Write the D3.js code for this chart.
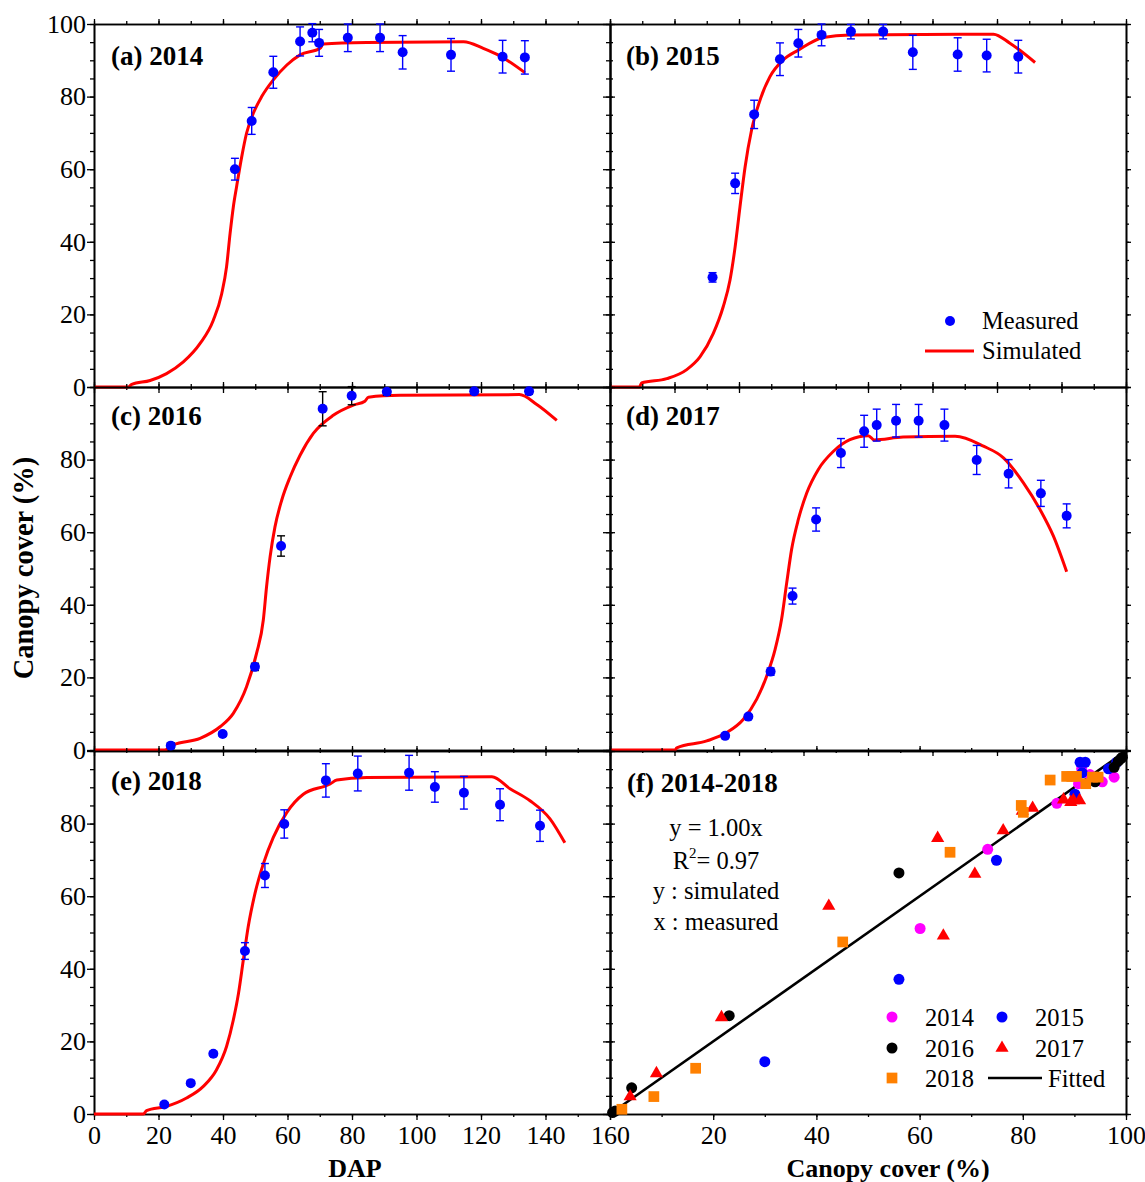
<!DOCTYPE html>
<html lang="en">
<head>
    <meta charset="UTF-8">
    <script src="https://d3js.org/d3.v7.min.js" charset="utf-8"></script>
    <title>Canopy cover</title>
    <style>
        body { margin: 0; background: #fff; }
        svg text { font-family: "Liberation Serif", "Times New Roman", serif; fill: #000; }
    </style>
</head>
<body>
<div id="chart"></div>
<script>
    // ---- measured canopy cover (DAP, %, error) ----
    const dap2014 = [43.7, 48.9, 55.6, 63.9, 67.7, 69.8, 78.7, 88.7, 95.7, 110.7, 126.7, 133.6];
    const cc2014 = [60.0, 73.3, 86.7, 95.2, 97.6, 94.8, 96.2, 96.2, 92.2, 91.5, 91.0, 90.8];
    const err2014 = [3.0, 3.7, 4.4, 4.0, 2.5, 3.7, 3.8, 3.8, 4.6, 4.5, 4.5, 4.6];

    const dap2015 = [31.8, 38.8, 44.7, 52.7, 58.4, 65.6, 74.7, 84.7, 93.9, 107.8, 116.8, 126.6];
    const cc2015 = [30.2, 56.1, 75.1, 90.3, 94.7, 97.0, 97.9, 97.9, 92.2, 91.6, 91.3, 91.0];
    const err2015 = [1.3, 2.8, 3.9, 4.5, 3.8, 3.0, 2.0, 2.0, 4.7, 4.6, 4.5, 4.5];

    const dap2016 = [23.8, 39.9, 49.9, 58.0, 70.9, 79.9, 90.8, 117.9, 134.9];
    const cc2016 = [1.2, 4.4, 22.9, 56.2, 94.0, 97.6, 98.7, 98.8, 98.8];
    const err2016 = [0.8, 0.6, 1.0, 2.8, 4.7, 2.5, 1.0, 0.8, 0.8];

    const dap2017 = [35.7, 42.9, 49.8, 56.6, 63.9, 71.6, 78.8, 82.7, 88.7, 95.7, 103.7, 113.7, 123.6, 133.6, 141.6];
    const cc2017 = [3.9, 9.2, 21.6, 42.4, 63.5, 81.8, 87.8, 89.5, 90.7, 90.7, 89.5, 79.9, 76.1, 70.7, 64.5];
    const err2017 = [0.5, 0.5, 1.0, 2.2, 3.2, 4.0, 4.4, 4.4, 4.5, 4.5, 4.4, 4.0, 3.9, 3.6, 3.3];

    const dap2018 = [21.8, 30.0, 37.0, 46.8, 53.0, 59.0, 71.9, 81.8, 97.7, 105.7, 114.7, 125.9, 138.3];
    const cc2018 = [2.6, 8.5, 16.6, 44.9, 65.7, 79.9, 91.9, 93.8, 94.0, 90.1, 88.5, 85.2, 79.4];
    const err2018 = [0.6, 0.6, 0.6, 2.3, 3.3, 3.9, 4.6, 4.8, 4.8, 4.2, 4.5, 4.4, 4.3];

    // ---- simulated curves (DAP, %) ----
    const simDap2014 = [0, 10.6, 11.7, 17.4, 22.5, 27.7, 32.9, 37.0, 39.6, 41.1, 42.2, 43.2, 44.2, 45.8, 47.3, 49.4, 52.0, 55.6, 59.8, 63.9, 70.1, 71.1, 84.6, 114.6, 120.7, 125.9, 133.6];
    const sim2014 = [0, 0, 0.7, 1.8, 3.7, 6.9, 12.0, 18.4, 25.7, 33.1, 42.3, 49.6, 55.1, 63.4, 69.9, 75.4, 80.0, 84.6, 88.7, 91.5, 93.3, 94.5, 94.9, 95.1, 93.3, 91.2, 86.6];

    const simDap2015 = [0, 9.1, 9.8, 17.6, 23.8, 27.9, 32.0, 35.1, 37.2, 38.8, 40.3, 41.9, 43.9, 46.5, 49.6, 53.7, 58.4, 66.1, 74.4, 118.9, 124.0, 131.8];
    const sim2015 = [0, 0, 1.1, 2.3, 4.8, 8.3, 14.7, 22.1, 29.4, 38.6, 49.6, 60.7, 70.8, 79.0, 85.5, 90.1, 92.8, 96.3, 97.0, 97.2, 94.7, 89.4];

    const simDap2016 = [0, 22.0, 24.6, 32.9, 39.1, 43.2, 47.3, 50.4, 52.5, 53.5, 54.6, 56.1, 58.2, 60.8, 63.9, 68.0, 74.2, 80.4, 84.0, 85.1, 94.9, 131.9, 137.3, 143.5];
    const sim2016 = [0, 0, 1.4, 3.2, 6.4, 10.1, 17.4, 26.6, 35.8, 44.9, 53.2, 61.4, 68.8, 75.2, 81.2, 87.2, 92.2, 95.0, 96.1, 97.2, 97.7, 97.9, 95.2, 90.8];

    const simDap2017 = [0, 20.2, 20.7, 30.0, 36.2, 41.3, 45.5, 48.6, 51.2, 53.2, 54.8, 56.3, 58.4, 61.0, 64.6, 69.3, 74.4, 80.1, 81.9, 90.9, 107.0, 115.8, 122.0, 128.2, 133.3, 137.5, 141.6];
    const sim2017 = [0, 0, 0.6, 2.5, 4.8, 8.4, 14.0, 20.4, 27.7, 36.0, 46.1, 55.2, 63.5, 70.8, 77.3, 82.3, 85.5, 86.6, 85.4, 86.2, 86.4, 83.7, 80.5, 73.6, 66.3, 58.9, 49.1];

    const simDap2018 = [0, 15.3, 16.3, 22.5, 28.7, 33.9, 38.0, 41.1, 43.2, 44.8, 46.3, 47.8, 49.9, 52.5, 55.6, 59.8, 64.9, 73.2, 75.3, 84.6, 123.4, 129.0, 135.2, 141.4, 146.0];
    const sim2018 = [0, 0, 0.9, 2.1, 4.4, 7.6, 12.2, 18.6, 25.9, 33.2, 42.4, 51.5, 60.7, 68.9, 76.2, 83.1, 88.1, 90.9, 92.0, 92.7, 92.9, 89.6, 86.3, 81.3, 74.7];

    // ---- (f) measured (x) vs simulated (y) ----
    const fMeas2014 = [60.1, 73.2, 86.6, 90.8, 91.4, 93.0, 95.4, 97.7];
    const fSim2014 = [51.1, 72.9, 85.6, 91.0, 95.1, 93.5, 91.5, 92.8];
    const fMeas2015 = [30.0, 56.0, 74.9, 90.1, 91.5, 91.1, 92.1, 96.6, 98.2];
    const fSim2015 = [14.4, 37.1, 69.9, 88.1, 94.0, 96.9, 96.9, 95.1, 96.9];
    const fMeas2016 = [0.5, 1.0, 4.2, 23.1, 56.0, 94.0, 97.7, 98.5, 99.0, 99.3];
    const fSim2016 = [0.4, 0.8, 7.2, 27.1, 66.4, 91.5, 95.5, 97.2, 97.9, 98.3];
    const fMeas2017 = [3.9, 9.0, 21.6, 42.4, 63.5, 64.6, 70.7, 76.2, 79.9, 81.9, 87.9, 89.3, 89.8, 91.0];
    const fSim2017 = [4.8, 11.2, 26.6, 57.3, 76.0, 49.1, 66.1, 78.1, 83.5, 84.3, 86.6, 85.9, 86.4, 86.4];
    const fMeas2018 = [2.3, 8.5, 16.6, 45.1, 65.9, 79.7, 80.1, 85.3, 88.5, 89.5, 90.4, 92.2, 93.5, 94.6];
    const fSim2018 = [1.3, 4.8, 12.6, 47.4, 72.1, 85.0, 83.1, 92.0, 93.0, 93.0, 93.0, 91.0, 92.8, 92.8];

    const dapTicks = [0, 20, 40, 60, 80, 100, 120, 140, 160];
    const ccTicks = [0, 20, 40, 60, 80, 100];

    // ---- layout ----
    const svgWidth = 1145, svgHeight = 1182;
    const panelW = 516, panelH = 363;
    const colLeft = [94, 610];
    const rowTop = [24, 387, 751];
    const labelDy = [41, 38, 39];

    const svg = d3.select("#chart").append("svg")
        .attr("width", svgWidth)
        .attr("height", svgHeight);

    const xDap = d3.scaleLinear().domain([0, 160]).range([0, panelW]);
    const xCc = d3.scaleLinear().domain([0, 100]).range([0, panelW]);
    const yCc = d3.scaleLinear().domain([0, 100]).range([panelH, 0]);

    const zip = (a, b) => a.map((v, i) => [v, b[i]]);

    const panels = [
        {label: "(a) 2014", col: 0, row: 0, dap: dap2014, cc: cc2014, err: err2014, simX: simDap2014, simY: sim2014, errColor: "#0000ff"},
        {label: "(b) 2015", col: 1, row: 0, dap: dap2015, cc: cc2015, err: err2015, simX: simDap2015, simY: sim2015, errColor: "#0000ff"},
        {label: "(c) 2016", col: 0, row: 1, dap: dap2016, cc: cc2016, err: err2016, simX: simDap2016, simY: sim2016, errColor: "#000000"},
        {label: "(d) 2017", col: 1, row: 1, dap: dap2017, cc: cc2017, err: err2017, simX: simDap2017, simY: sim2017, errColor: "#0000ff"},
        {label: "(e) 2018", col: 0, row: 2, dap: dap2018, cc: cc2018, err: err2018, simX: simDap2018, simY: sim2018, errColor: "#0000ff"}
    ];

    // axes on all four sides, ticks outward, labels only where asked
    const drawFrame = (g, x, xMajor, xMinor, xLabels, yLabels) => {
        const styleAxis = a => {
            a.attr("font-size", 26);
            a.select(".domain").attr("stroke", "#000").attr("stroke-width", 1.6);
            a.selectAll(".tick line").attr("stroke", "#000").attr("stroke-width", 1.3);
        };
        const yMinor = d3.range(0, 101, 5);
        // left
        g.append("g").call(d3.axisLeft(yCc).tickValues(yMinor).tickSize(4).tickSizeOuter(0).tickFormat("")).call(styleAxis);
        g.append("g").call(d3.axisLeft(yCc).tickValues(ccTicks).tickSize(7).tickSizeOuter(0).tickPadding(1)
            .tickFormat(d => yLabels.includes(d) ? d : "")).call(styleAxis);
        // right
        g.append("g").attr("transform", `translate(${panelW},0)`)
            .call(d3.axisRight(yCc).tickValues(yMinor).tickSize(3).tickSizeOuter(0).tickFormat("")).call(styleAxis);
        g.append("g").attr("transform", `translate(${panelW},0)`)
            .call(d3.axisRight(yCc).tickValues(ccTicks).tickSize(5).tickSizeOuter(0).tickFormat("")).call(styleAxis);
        // top
        g.append("g").call(d3.axisTop(x).tickValues(xMinor).tickSize(3).tickSizeOuter(0).tickFormat("")).call(styleAxis);
        g.append("g").call(d3.axisTop(x).tickValues(xMajor).tickSize(5).tickSizeOuter(0).tickFormat("")).call(styleAxis);
        // bottom
        g.append("g").attr("transform", `translate(0,${panelH})`)
            .call(d3.axisBottom(x).tickValues(xMinor).tickSize(3).tickSizeOuter(0).tickFormat("")).call(styleAxis);
        g.append("g").attr("transform", `translate(0,${panelH})`)
            .call(d3.axisBottom(x).tickValues(xMajor).tickSize(6).tickSizeOuter(0).tickPadding(6)
                .tickFormat(d => xLabels.includes(d) ? d : "")).call(styleAxis);
    };

    const simLine = d3.line()
        .x(d => xDap(d[0]))
        .y(d => yCc(d[1]))
        .curve(d3.curveMonotoneX);

    panels.forEach(p => {
        const g = svg.append("g").attr("transform", `translate(${colLeft[p.col]},${rowTop[p.row]})`);
        const yLabels = p.col === 0 ? (p.row === 0 ? ccTicks : [0, 20, 40, 60, 80]) : [];
        const xLabels = p.row === 2 ? dapTicks : [];
        drawFrame(g, xDap, dapTicks, d3.range(0, 161, 10), xLabels, yLabels);

        g.append("path")
            .attr("d", simLine(zip(p.simX, p.simY)))
            .attr("fill", "none")
            .attr("stroke", "#ff0000")
            .attr("stroke-width", 3);

        const pts = p.dap.map((d, i) => ({d: d, v: p.cc[i], e: p.err[i]}));
        const eb = g.append("g").attr("stroke", p.errColor).attr("stroke-width", 1.4);
        pts.forEach(q => {
            const cx = xDap(q.d);
            eb.append("line").attr("x1", cx).attr("x2", cx).attr("y1", yCc(q.v - q.e)).attr("y2", yCc(q.v + q.e));
            eb.append("line").attr("x1", cx - 4).attr("x2", cx + 4).attr("y1", yCc(q.v - q.e)).attr("y2", yCc(q.v - q.e));
            eb.append("line").attr("x1", cx - 4).attr("x2", cx + 4).attr("y1", yCc(q.v + q.e)).attr("y2", yCc(q.v + q.e));
        });
        g.selectAll("circle.m")
            .data(pts)
            .enter()
            .append("circle")
            .attr("class", "m")
            .attr("cx", q => xDap(q.d))
            .attr("cy", q => yCc(q.v))
            .attr("r", 5)
            .attr("fill", "#0000ff");

        g.append("text")
            .attr("x", p.col === 0 ? 17 : 16)
            .attr("y", labelDy[p.row])
            .attr("font-size", 27)
            .attr("font-weight", "bold")
            .text(p.label);
    });

    // legend in (b)
    const lg = svg.append("g").attr("font-size", 24.5);
    lg.append("circle").attr("cx", 950).attr("cy", 321).attr("r", 5).attr("fill", "#0000ff");
    lg.append("text").attr("x", 982).attr("y", 329).text("Measured");
    lg.append("line").attr("x1", 925).attr("x2", 974).attr("y1", 351).attr("y2", 351)
        .attr("stroke", "#ff0000").attr("stroke-width", 3);
    lg.append("text").attr("x", 982).attr("y", 359).text("Simulated");

    // ---- (f) scatter ----
    const gf = svg.append("g").attr("transform", `translate(${colLeft[1]},${rowTop[2]})`);
    drawFrame(gf, xCc, ccTicks, d3.range(0, 101, 10), [20, 40, 60, 80, 100], []);

    gf.append("line")
        .attr("x1", xCc(0)).attr("y1", yCc(0))
        .attr("x2", xCc(100)).attr("y2", yCc(100))
        .attr("stroke", "#000").attr("stroke-width", 2.6);

    const series = [
        {name: "2014", xs: fMeas2014, ys: fSim2014, color: "#ff00ff", shape: d3.symbolCircle, size: 95},
        {name: "2015", xs: fMeas2015, ys: fSim2015, color: "#0000ff", shape: d3.symbolCircle, size: 95},
        {name: "2016", xs: fMeas2016, ys: fSim2016, color: "#000000", shape: d3.symbolCircle, size: 95},
        {name: "2017", xs: fMeas2017, ys: fSim2017, color: "#ff0000", shape: d3.symbolTriangle, size: 75},
        {name: "2018", xs: fMeas2018, ys: fSim2018, color: "#ff8000", shape: d3.symbolSquare, size: 115}
    ];

    series.forEach(s => {
        gf.selectAll(null)
            .data(zip(s.xs, s.ys))
            .enter()
            .append("path")
            .attr("d", d3.symbol().type(s.shape).size(s.size))
            .attr("transform", d => `translate(${xCc(d[0])},${yCc(d[1])})`)
            .attr("fill", s.color);
    });

    gf.append("text").attr("x", 17).attr("y", 41).attr("font-size", 27).attr("font-weight", "bold").text("(f) 2014-2018");

    const eq = gf.append("g").attr("font-size", 24.5).attr("text-anchor", "middle");
    eq.append("text").attr("x", 106).attr("y", 85).text("y = 1.00x");
    const r2 = eq.append("text").attr("x", 106).attr("y", 118);
    r2.append("tspan").text("R");
    r2.append("tspan").attr("font-size", 15).attr("dy", -11).text("2");
    r2.append("tspan").attr("dy", 11).text("= 0.97");
    eq.append("text").attr("x", 106).attr("y", 148).text("y : simulated");
    eq.append("text").attr("x", 106).attr("y", 179).text("x : measured");

    // legend in (f)
    const legPos = [[282, 266], [392, 266], [282, 297], [392, 297], [282, 327]];
    series.forEach((s, i) => {
        const [lx, ly] = legPos[i];
        gf.append("path")
            .attr("d", d3.symbol().type(s.shape).size(s.size))
            .attr("transform", `translate(${lx},${ly})`)
            .attr("fill", s.color);
        gf.append("text").attr("x", lx + 33).attr("y", ly + 9).attr("font-size", 24.5).text(s.name);
    });
    gf.append("line").attr("x1", 378).attr("x2", 432).attr("y1", 327).attr("y2", 327)
        .attr("stroke", "#000").attr("stroke-width", 2.6);
    gf.append("text").attr("x", 438).attr("y", 336).attr("font-size", 24.5).text("Fitted");

    // ---- axis titles ----
    svg.append("text")
        .attr("transform", "translate(33,568) rotate(-90)")
        .attr("text-anchor", "middle")
        .attr("font-size", 28.5)
        .attr("font-weight", "bold")
        .text("Canopy cover (%)");
    svg.append("text")
        .attr("x", 355).attr("y", 1177)
        .attr("text-anchor", "middle")
        .attr("font-size", 26)
        .attr("font-weight", "bold")
        .text("DAP");
    svg.append("text")
        .attr("x", 888).attr("y", 1177)
        .attr("text-anchor", "middle")
        .attr("font-size", 26)
        .attr("font-weight", "bold")
        .text("Canopy cover (%)");
</script>
</body>
</html>
